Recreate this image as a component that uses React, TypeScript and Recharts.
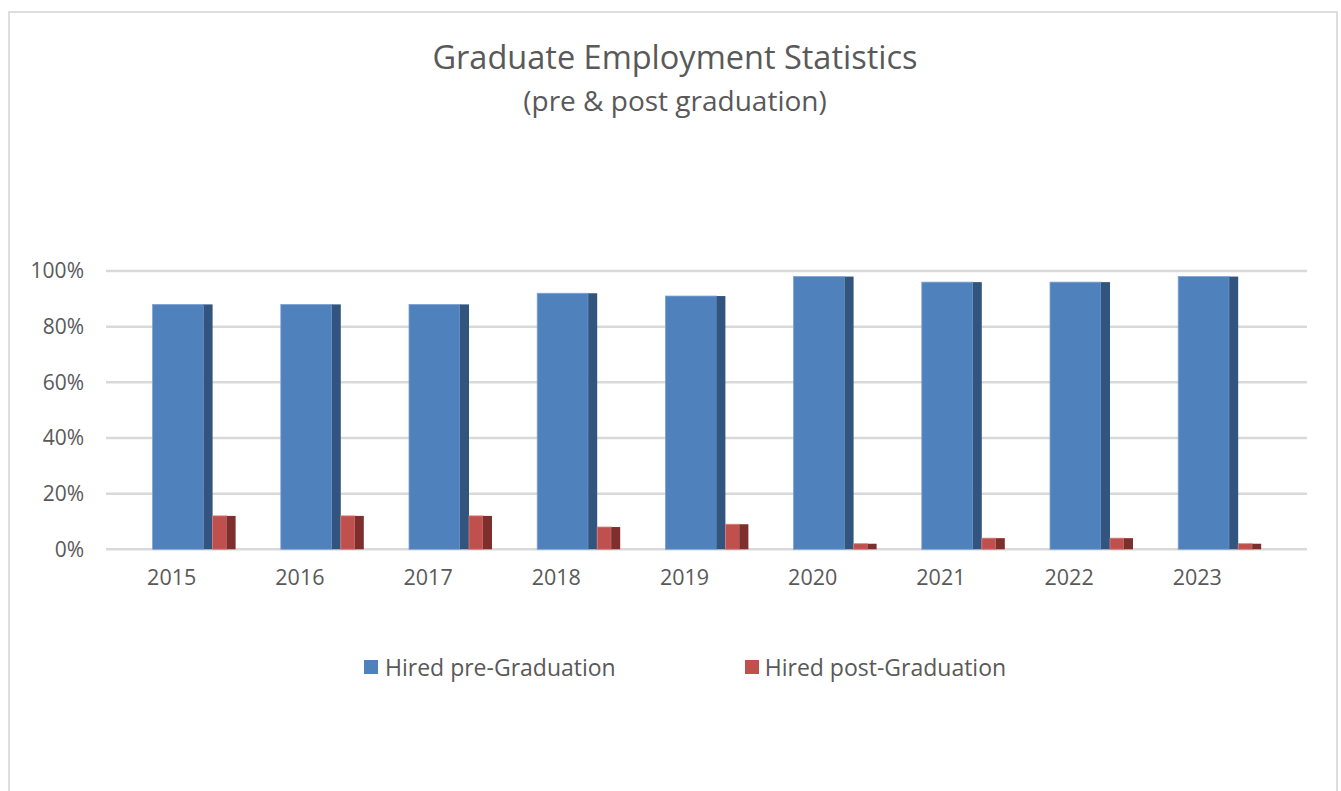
import React from 'react';
import { BarChart, Bar, XAxis, YAxis, CartesianGrid } from 'recharts';

const years = ['2015', '2016', '2017', '2018', '2019', '2020', '2021', '2022', '2023'];
const hiredPre = [0.88, 0.88, 0.88, 0.92, 0.91, 0.98, 0.96, 0.96, 0.98];
const hiredPost = [0.12, 0.12, 0.12, 0.08, 0.09, 0.02, 0.04, 0.04, 0.02];
const yTicks = [0, 0.2, 0.4, 0.6, 0.8, 1];
const seriesNames = ['Hired pre-Graduation', 'Hired post-Graduation'];

const data = years.map((y, i) => ({ year: y, pre: hiredPre[i], post: hiredPost[i] }));

const FONT = '"Open Sans", sans-serif';
const TEXT = '#595959';
const BLUE = '#4f81bd';
const BLUE_SIDE = '#325580';
const RED = '#c0504d';
const RED_SIDE = '#7e2f2d';
const DEPTH = 9;

const makeShape = (front: string, side: string, edge: string) => (props: any) => {
  const { x, y, width, height } = props;
  if (!height || height <= 0) return <g />;
  const fw = width - DEPTH;
  return (
    <g>
      <rect x={x} y={y} width={fw} height={height} fill={front} stroke={edge} strokeWidth={0.8} />
      <rect x={x + fw} y={y} width={DEPTH} height={height} fill={side} />
    </g>
  );
};

const XTick = (props: any) => {
  const { x, y, payload } = props;
  return (
    <text x={x - 22} y={y} dy={15} textAnchor="middle" fill={TEXT} fontSize={21.5} fontFamily={FONT}>
      {payload.value}
    </text>
  );
};

export default function App() {
  return (
    <div style={{ position: 'absolute', left: 0, top: 0, width: 1341, height: 791, background: '#fff', overflow: 'hidden' }}>
      <div
        style={{
          position: 'absolute',
          left: 8,
          top: 11,
          width: 1330,
          height: 800,
          border: '2px solid #dedede',
          boxSizing: 'border-box',
        }}
      />
      <div
        style={{
          position: 'absolute',
          left: 0,
          width: 1350,
          top: 36,
          textAlign: 'center',
          fontFamily: FONT,
          color: TEXT,
          fontSize: 32.5,
          lineHeight: '42px',
        }}
      >
        Graduate Employment Statistics
      </div>
      <div
        style={{
          position: 'absolute',
          left: 0,
          width: 1350,
          top: 81,
          textAlign: 'center',
          fontFamily: FONT,
          color: TEXT,
          fontSize: 28,
          lineHeight: '38px',
        }}
      >
        (pre &amp; post graduation)
      </div>
      <div style={{ position: 'absolute', left: 0, top: 0 }}>
        <BarChart
          width={1341}
          height={791}
          data={data}
          margin={{ top: 271, right: 34, bottom: 211.7, left: 0 }}
          barGap={0}
        >
          <CartesianGrid vertical={false} stroke="#d9d9d9" strokeWidth={2.5} />
          <XAxis
            dataKey="year"
            axisLine={false}
            tickLine={false}
            tickSize={0}
            tickMargin={21}
            height={30}
            padding={{ left: 23.6, right: 23.6 }}
            tick={<XTick />}
            interval={0}
          />
          <YAxis
            domain={[0, 1]}
            ticks={yTicks}
            axisLine={false}
            tickLine={false}
            tickSize={0}
            tickMargin={22}
            width={106}
            tickFormatter={(v: number) => `${Math.round(v * 100)}%`}
            tick={{ fill: TEXT, fontSize: 21, fontFamily: FONT }}
          />
          <Bar dataKey="pre" name={seriesNames[0]} barSize={60} isAnimationActive={false} shape={makeShape(BLUE, BLUE_SIDE, '#7ea2d2')} />
          <Bar dataKey="post" name={seriesNames[1]} barSize={23} isAnimationActive={false} shape={makeShape(RED, RED_SIDE, '#d47c7a')} />
        </BarChart>
      </div>
      <div
        style={{
          position: 'absolute',
          left: 364,
          top: 651,
          display: 'flex',
          alignItems: 'center',
          fontFamily: FONT,
          color: TEXT,
          fontSize: 23,
          lineHeight: '32px',
          whiteSpace: 'nowrap',
        }}
      >
        <span style={{ width: 14, height: 14, background: BLUE, display: 'inline-block', marginRight: 7 }} />
        <span style={{ marginRight: 129 }}>{seriesNames[0]}</span>
        <span style={{ width: 14, height: 14, background: RED, display: 'inline-block', marginRight: 6 }} />
        <span>{seriesNames[1]}</span>
      </div>
    </div>
  );
}
